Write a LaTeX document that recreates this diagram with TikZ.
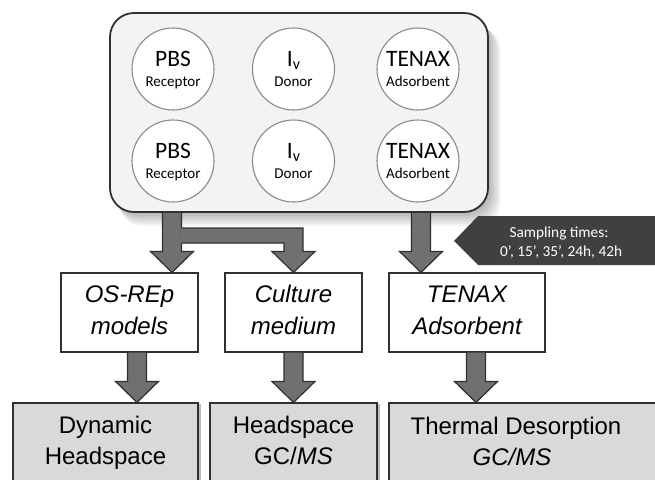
\documentclass[tikz,border=0pt]{standalone}
\usepackage{fontspec}
\setmainfont{Liberation Sans}
\newfontfamily\carl{Carlito}
\usetikzlibrary{calc,shadows}
\definecolor{arrfill}{HTML}{707070}
\definecolor{edge}{HTML}{303030}
\definecolor{panelfill}{HTML}{F3F3F3}
\definecolor{boxgray}{HTML}{D9D9D9}
\definecolor{tagfill}{HTML}{404040}
\definecolor{ringgray}{HTML}{8A8A8A}
\newcommand\blockarrow[2]{%
  \filldraw[arrowshape] let \p1=(#1), \p2=(#2) in
  (\x1-9.5pt,\y1) -- (\x1-9.5pt,\y2+21pt) -- (\x1-21.5pt,\y2+21pt) -- (\x1,\y2)
  -- (\x1+21.5pt,\y2+21pt) -- (\x1+9.5pt,\y2+21pt) -- (\x1+9.5pt,\y1) -- cycle;}
\begin{document}
\begin{tikzpicture}[x=1pt,y=-1pt,
  arrowshape/.style={fill=arrfill, draw=edge, line width=1.2pt, line join=miter},
  panel/.style={draw=edge, line width=1.8pt, fill=panelfill, rounded corners=24pt,
    minimum width=378pt, minimum height=199pt, inner sep=0pt},
  ring/.style={circle, draw=ringgray, line width=1.1pt, fill=white, minimum size=82pt, inner sep=0pt},
  midbox/.style={draw=edge, line width=1.1pt, fill=white, minimum height=79pt, inner sep=0pt},
  lowbox/.style={draw=edge, line width=1.1pt, fill=boxgray, minimum height=100pt, inner sep=0pt,
    drop shadow={shadow xshift=3pt, shadow yshift=-1pt, fill=black!45, opacity=.6}},
  big/.style={font=\carl\fontsize{23.5}{23.5}\selectfont, anchor=base, inner sep=0pt},
  small/.style={font=\carl\fontsize{15}{15}\selectfont, anchor=base, inner sep=0pt},
  midtext/.style={font=\itshape\fontsize{24}{24}\selectfont, anchor=base, inner sep=0pt},
  lowtext/.style={font=\fontsize{24}{24}\selectfont, anchor=base, inner sep=0pt},
  tagtext/.style={font=\carl\fontsize{15.3}{15.3}\selectfont, text=white, anchor=base, inner sep=0pt}]
\useasboundingbox (0,0) rectangle (655,479);
\fill[white] (0,0) rectangle (655,479);
% soft shadow of panel
\foreach \k in {1,...,7}
  \fill[black, opacity=0.045, rounded corners=24pt] (112+\k,16+\k*1.6) rectangle (488+\k*1.8,212+\k*2);
% arrows out of the panel
\coordinate (a1s) at (172,205);
\coordinate (a3s) at (421,205);
\node[midbox, minimum width=137pt] (m1) at (129.5,312.5) {};
\node[midbox, minimum width=137pt] (m2) at (293.5,312.5) {};
\node[midbox, minimum width=156pt] (m3) at (467,312.5) {};
\blockarrow{a1s}{m1.north}
\fill[arrfill] let \p1=(a1s), \p2=(m2.north) in
  (\x1+8.5pt,-228pt) -- (\x2+9.5pt,-228pt) -- (\x2+9.5pt,\y2+21pt) -- (\x2+21.5pt,\y2+21pt)
  -- (\x2,\y2) -- (\x2-21.5pt,\y2+21pt) -- (\x2-9.5pt,\y2+21pt) -- (\x2-9.5pt,-243pt)
  -- (\x1+8.5pt,-243pt) -- cycle;
\draw[edge, line width=1.2pt, line join=miter] let \p1=(a1s), \p2=(m2.north) in
  (\x1+9.5pt,-228pt) -- (\x2+9.5pt,-228pt) -- (\x2+9.5pt,\y2+21pt) -- (\x2+21.5pt,\y2+21pt)
  -- (\x2,\y2) -- (\x2-21.5pt,\y2+21pt) -- (\x2-9.5pt,\y2+21pt) -- (\x2-9.5pt,-243pt)
  -- (\x1+9.5pt,-243pt);
\blockarrow{a3s}{m3.north}
% panel
\node[panel] (panel) at (299,112.5) {};
\foreach \r/\y in {1/69,2/161} {
  \node[ring] (pbs\r) at (173,\y) {};
  \node[big] (pbs\r-t) at ($(pbs\r)+(0,-3)$) {PBS};
  \node[small] (pbs\r-s) at ($(pbs\r)+(0,17)$) {Receptor};
  \node[ring] (iv\r) at (293.5,\y) {};
  \node[big] (iv\r-t) at ($(iv\r)+(0,-3)$) {I\raisebox{-3pt}{\fontsize{16}{16}\selectfont v}};
  \node[small] (iv\r-s) at ($(iv\r)+(0,17)$) {Donor};
  \node[ring] (tx\r) at (418,\y) {};
  \node[big] (tx\r-t) at ($(tx\r)+(0,-3)$) {TENAX};
  \node[small] (tx\r-s) at ($(tx\r)+(0,17)$) {Adsorbent};
}
% middle texts
\node[midtext] (m1a) at ($(m1.north)+(0,30)$) {OS-REp};
\node[midtext] (m1b) at ($(m1.north)+(0,62)$) {models};
\node[midtext] (m2a) at ($(m2.north)+(0,30)$) {Culture};
\node[midtext] (m2b) at ($(m2.north)+(0,62)$) {medium};
\node[midtext] (m3a) at ($(m3.north)+(0,30)$) {TENAX};
\node[midtext] (m3b) at ($(m3.north)+(0,62)$) {Adsorbent};
% lower boxes
\node[lowbox, minimum width=185pt] (b1) at (105.5,453) {};
\node[lowbox, minimum width=167pt] (b2) at (293.5,453) {};
\node[lowbox, minimum width=281pt] (b3) at (529.5,453) {};
\coordinate (a4s) at (137,352);
\coordinate (a5s) at (293.5,352);
\coordinate (a6s) at (476,352);
\blockarrow{a4s}{b1.north}
\blockarrow{a5s}{b2.north}
\blockarrow{a6s}{b3.north}
\node[lowtext] (b1a) at ($(b1.north)+(0,31)$) {Dynamic};
\node[lowtext] (b1b) at ($(b1.north)+(0,62)$) {Headspace};
\node[lowtext] (b2a) at ($(b2.north)+(0,31)$) {Headspace};
\node[lowtext] (b2b) at ($(b2.north)+(0,62)$) {GC/\textit{MS}};
\node[lowtext] (b3a) at (516,434) {Thermal Desorption};
\node[lowtext] (b3b) at (512,465) {\textit{GC/MS}};
% sampling tag
\fill[tagfill] (454,241) -- (478,216) -- (660,216) -- (660,265) -- (478,265) -- cycle;
\node[tagtext] (tag1) at (559,237) {Sampling times:};
\node[tagtext] (tag2) at (561,256) {0’, 15’, 35’, 24h, 42h};
\end{tikzpicture}
\end{document}
